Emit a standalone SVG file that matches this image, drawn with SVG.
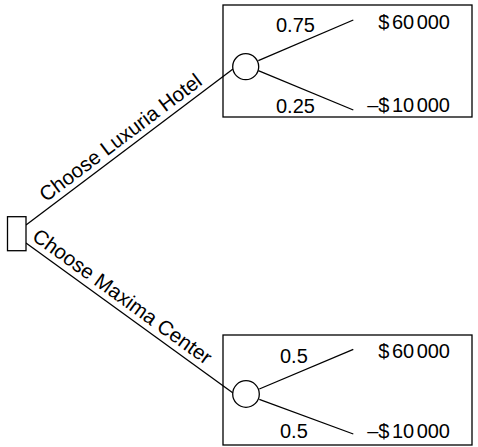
<svg xmlns="http://www.w3.org/2000/svg" width="478" height="447" viewBox="0 0 478 447">
<style>
.ln{stroke:#000;stroke-width:1.3;fill:none}
.bx{stroke:#000;stroke-width:1.3;fill:#fff}
text{font-family:"Liberation Sans",Arial,sans-serif;font-size:20px;fill:#000}
.br{font-size:20.5px}
</style>
<rect width="478" height="447" fill="#fff"/>
<g id="box-upper"><rect class="bx" x="223" y="5" width="249" height="112"/></g>
<g id="box-lower"><rect class="bx" x="223" y="335" width="249" height="110"/></g>
<g id="connectors">
<line class="ln" x1="26" y1="225" x2="233" y2="69"/>
<line class="ln" x1="26" y1="243" x2="233" y2="393"/>
<line class="ln" x1="258.3" y1="60.7" x2="353.3" y2="20"/>
<line class="ln" x1="258.3" y1="70.7" x2="353.3" y2="110"/>
<line class="ln" x1="259.3" y1="389" x2="353.3" y2="349.3"/>
<line class="ln" x1="259.3" y1="399.3" x2="353.3" y2="434"/>
</g>
<g id="decision"><rect class="bx" x="7.5" y="216.7" width="18.5" height="34"/></g>
<g id="chance-upper"><circle class="bx" cx="245.7" cy="66.7" r="13"/></g>
<g id="chance-lower"><circle class="bx" cx="246" cy="394" r="13.3"/></g>
<g id="labels">
<text class="br" transform="translate(46,202.4) rotate(-37)">Choose Luxuria Hotel</text>
<text class="br" transform="translate(31,239) rotate(35.9)">Choose Maxima Center</text>
<text x="276" y="32.3">0.75</text>
<text x="276" y="112.7">0.25</text>
<text x="450" y="28.7" text-anchor="end">$<tspan dx="2.5">60</tspan><tspan dx="2.5">000</tspan></text>
<text x="450" y="111.7" text-anchor="end">–$<tspan dx="2.5">10</tspan><tspan dx="2.5">000</tspan></text>
<text x="280" y="362.7">0.5</text>
<text x="280" y="438.3">0.5</text>
<text x="450" y="357.7" text-anchor="end">$<tspan dx="2.5">60</tspan><tspan dx="2.5">000</tspan></text>
<text x="450" y="438.3" text-anchor="end">–$<tspan dx="2.5">10</tspan><tspan dx="2.5">000</tspan></text>
</g>
</svg>
